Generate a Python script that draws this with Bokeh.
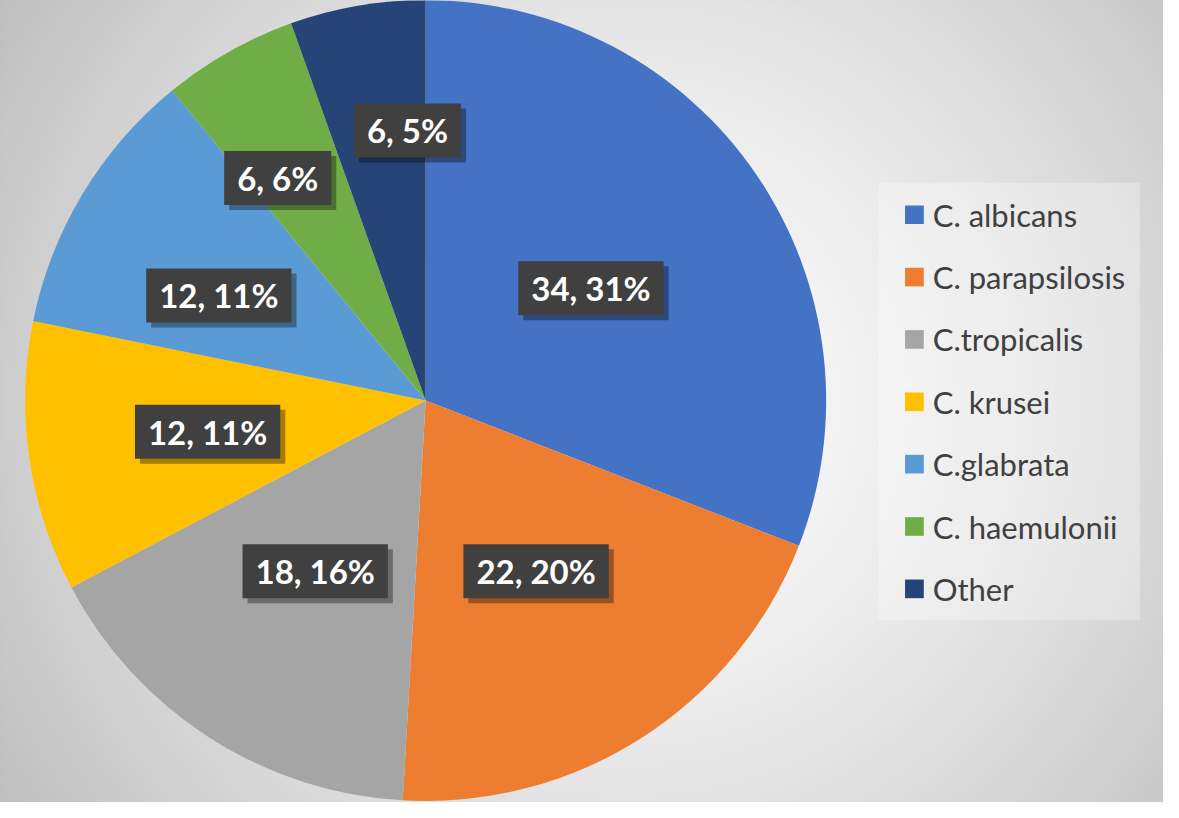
import numpy as np
from bokeh.plotting import figure
from bokeh.models import Range1d, ColumnDataSource
from bokeh.core.properties import value
from bokeh.embed import file_html
from bokeh.resources import INLINE

# ---------------- data ----------------
species = ["C. albicans", "C. parapsilosis", "C.tropicalis", "C. krusei",
           "C.glabrata", "C. haemulonii", "Other"]
counts = [34, 22, 18, 12, 12, 6, 6]
percent_labels = ["31%", "20%", "16%", "11%", "11%", "6%", "5%"]
colors = ["#4472C4", "#ED7D31", "#A5A5A5", "#FFC000", "#5B9BD5", "#70AD47", "#264478"]

# ---------------- layout (reference pixel space) ----------------
W, H = 1163, 802
REF_W, REF_H = 1179, 818
cx, cy_ref, R = 431, 408, 406
cy = REF_H - cy_ref
label_radius_frac = [0.50, 0.51, 0.51, 0.55, 0.58, 0.67, 0.68]
label_turn_deg = [0, 0, 0, 0, -4, -4, 6]

p = figure(width=W, height=H, x_range=Range1d(0, REF_W), y_range=Range1d(0, REF_H),
           output_backend="svg", toolbar_location=None, min_border=0)
p.axis.visible = False
p.grid.visible = False
p.background_fill_color = "#c4c4c4"
p.border_fill_color = "#c4c4c4"
p.outline_line_color = "#b0b0b0"
p.outline_line_width = 2

# radial background gradient (decorative)
gcx, gcy = 640, REF_H - 409
radii = np.arange(780, 0, -8.0)
shade = 252 - 56 * np.clip(radii / 720.0, 0, None) ** 1.5
shade = np.clip(shade, 180, 252).astype(int)
bg_colors = ["#%02x%02x%02x" % (s, s, s) for s in shade]
p.circle(x=[gcx] * len(radii), y=[gcy] * len(radii), radius=radii,
         fill_color=bg_colors, line_color=None)

# pie
total = float(sum(counts))
cum = np.concatenate([[0], np.cumsum(counts)])
start = np.pi / 2 - 2 * np.pi * cum[:-1] / total
end = np.pi / 2 - 2 * np.pi * cum[1:] / total
src = ColumnDataSource(dict(start=start, end=end, color=colors, name=species))
p.wedge(x=cx, y=cy, radius=R, start_angle="start", end_angle="end",
        direction="clock", fill_color="color", line_color=None, source=src)

# data labels
mid = np.pi / 2 - 2 * np.pi * (cum[:-1] + np.array(counts) / 2) / total
mid = mid - np.radians(label_turn_deg)
lx = cx + np.array(label_radius_frac) * R * np.cos(mid)
ly = cy + np.array(label_radius_frac) * R * np.sin(mid)
ltext = [f"{c}, {pc}" for c, pc in zip(counts, percent_labels)]
lsrc = ColumnDataSource(dict(x=lx, y=ly, t=ltext))

p.text(x="x", y="y", text="t", source=lsrc, text_align="center", text_baseline="middle",
       text_font=value("Lato"), text_font_style="bold", text_font_size="33px",
       text_alpha=0, background_fill_color="black", background_fill_alpha=0.35,
       padding=(13, 7), x_offset=5, y_offset=5)
p.text(x="x", y="y", text="t", source=lsrc, text_align="center", text_baseline="middle",
       text_font=value("Lato"), text_font_style="bold", text_font_size="33px",
       text_color="white", background_fill_color="#404040", padding=(13, 7))

# legend (drawn)
p.quad(left=890, right=1155, bottom=REF_H - 632, top=REF_H - 186,
       fill_color="white", fill_alpha=0.3, line_color=None)
row_y = REF_H - (218.5 + 63.6 * np.arange(len(species)))
p.rect(x=[926.5] * len(species), y=row_y, width=19, height=19,
       fill_color=colors, line_color=None)
p.text(x=[945] * len(species), y=row_y, text=species, text_baseline="middle",
       text_font=value("Lato"), text_font_size="31px", text_color="#404040")

open("out.html", "w").write(file_html(p, INLINE))
